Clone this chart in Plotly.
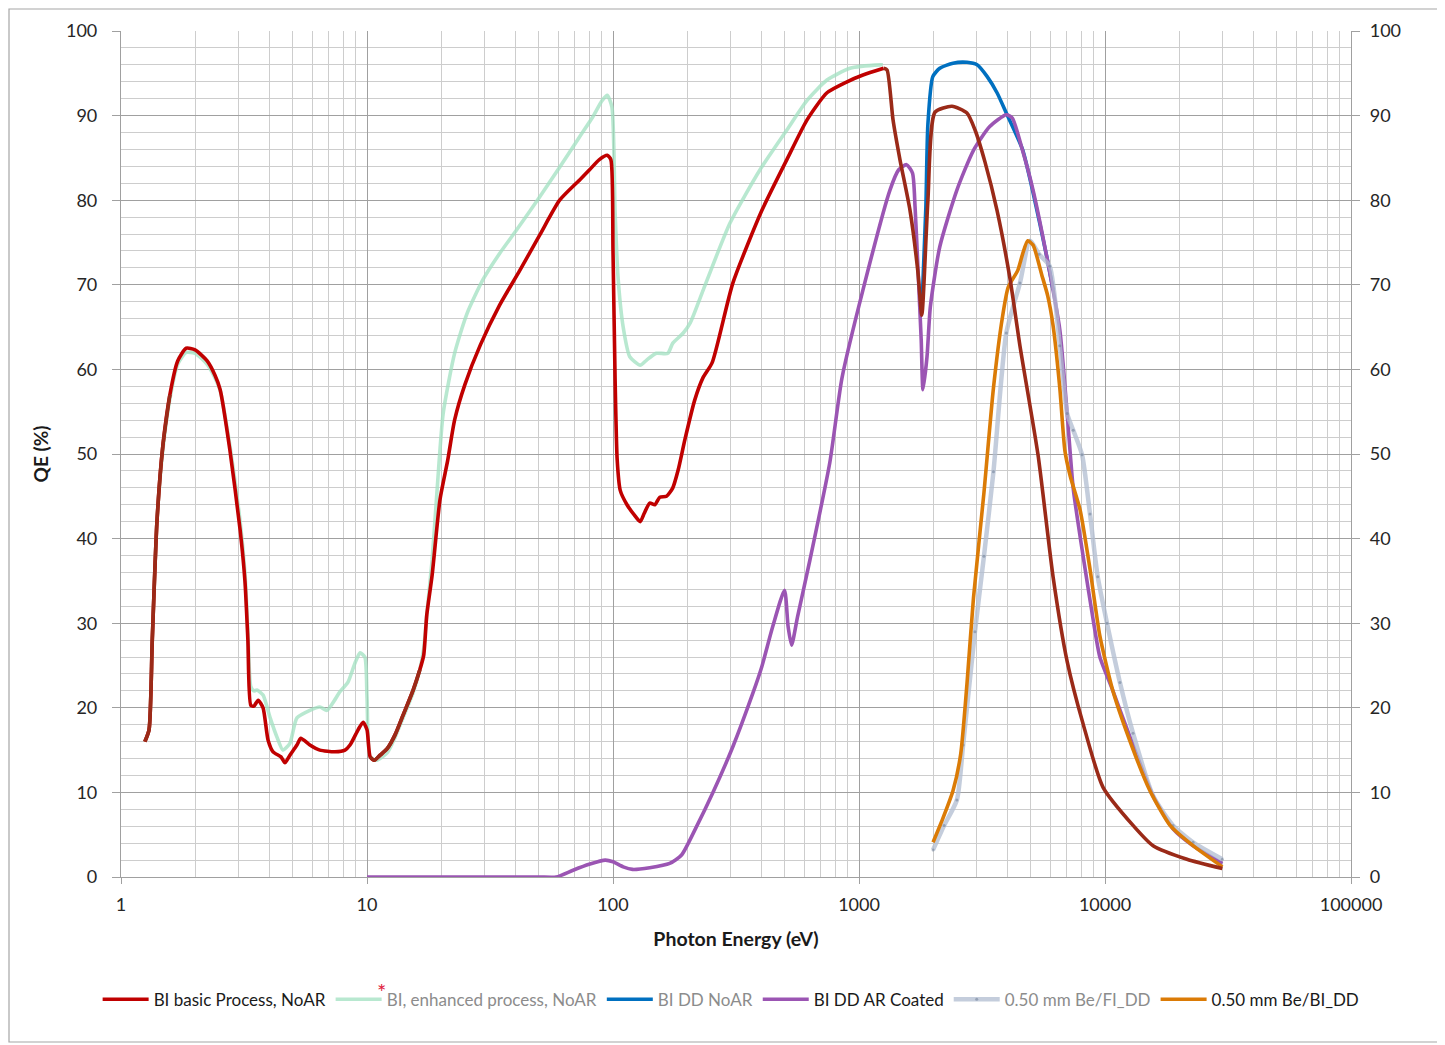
import plotly.graph_objects as go

# ---------------- data ----------------
basic_x = [1.25, 1.30, 1.34, 1.40, 1.48, 1.58, 1.70, 1.84, 2.0, 2.24, 2.41, 2.53, 2.77, 3.05, 3.19,
           3.28, 3.37, 3.47, 3.61, 3.78, 3.96, 4.15, 4.47, 4.64, 4.86, 5.19, 5.38, 5.86, 6.43, 7.41,
           8.14, 8.53, 9.2, 9.64, 10.0, 10.3, 10.7, 11.3, 12.1, 13.0, 14.0, 15.4, 16.4, 17.0, 17.5,
           18.4, 19.8, 21.3, 22.7, 25.0, 28.9, 34.6, 41.8, 50.4, 60.7, 73.2, 80.3, 88.0, 94.8, 98.0,
           100, 102, 104, 107, 114, 122, 129, 134, 141, 148, 155, 165, 175, 184, 196, 215, 232, 253,
           307, 403, 509, 615, 741, 894, 1038, 1260]
basic_y = [16.0, 17.4, 28, 42, 51, 57, 61, 62.5, 62.3, 61, 59.3, 57.6, 50.5, 41, 35,
           28, 20.3, 20.2, 20.9, 20, 16.2, 14.8, 14.2, 13.5, 14.4, 15.6, 16.4, 15.6, 15.0, 14.8,
           15.0, 15.6, 17.4, 18.3, 17.4, 14.2, 13.8, 14.4, 15.2, 16.8, 19.1, 22.1, 24.5, 26.2, 31,
           35.7, 44.6, 49.3, 54, 58.2, 62.9, 67.6, 71.7, 75.9, 80, 82.4, 83.6, 84.8, 85.3, 84.8,
           74, 58.7, 49.3, 45.7, 44, 42.8, 42, 43, 44.2, 44, 44.9, 45, 46, 48.1, 51.7, 56.4, 59, 60.8,
           70.2, 78.8, 84.8, 89.5, 92.7, 94, 94.8, 95.6]

# darker companion curve (no legend entry) seen on parts of the basic-process curve
dark_x = [1.25, 1.30, 1.34, 1.40, 1.48, 1.58, None,
          10.3, 10.7, 11.3, 12.1, 13.0, 14.0, 15.4, 16.4, None,
          1260, 1300, 1375, 1467, 1612, 1733, 1800, 1906, 2037, 2388, 2747, 2963, 3253, 3640,
          4111, 4510, 5342, 6150, 7016, 8147, 9820, 13000, 15680, 21530, 30000]
dark_y = [16.0, 17.4, 28, 42, 51, 57, None,
          14.2, 13.8, 14.4, 15.2, 16.8, 19.1, 22.1, 24.5, None,
          95.6, 95.4, 89.5, 84.8, 78.8, 71.7, 66.4, 80, 90.4, 91.1, 90.3, 88.3, 84.5, 78.8,
          70.7, 62.8, 49.9, 35.5, 25.5, 18.1, 10.6, 6.1, 3.7, 2.1, 1.0]

enh_x = [1.25, 1.30, 1.34, 1.40, 1.48, 1.58, 1.70, 1.84, 2.0, 2.24, 2.41, 2.53, 2.77, 3.05, 3.19,
         3.28, 3.37, 3.47, 3.57, 3.78, 4.03, 4.31, 4.55, 4.86, 5.19, 5.86, 6.43, 6.87, 7.27, 7.76,
         8.36, 8.94, 9.37, 9.8, 10.0, 10.3, 10.9, 12.1, 13.0, 14.0, 15.4, 16.4, 17.0, 17.5, 18.4,
         19.3, 20.4, 22.7, 25.5, 29.6, 34.6, 40.6, 50.4, 60.7, 73.2, 82.6, 90.4, 94.8, 99,
         102, 105, 110, 117, 129, 137, 150, 167, 175, 193, 206, 237, 299, 396, 509, 615, 741,
         919, 1217, 1250]
enh_y = [16.0, 17.4, 28, 42, 50.5, 56.5, 60.6, 62, 61.9, 60.6, 59, 57.5, 51, 42, 36,
         29, 22.5, 22.0, 22.1, 21.5, 18.9, 16.5, 15.0, 15.8, 18.8, 19.7, 20.1, 19.7, 20.6, 21.9,
         23, 25.3, 26.5, 26, 21.3, 14.2, 13.8, 14.7, 16.5, 18.8, 21.8, 24.5, 27, 31, 37.5,
         46, 54.8, 61.9, 66.6, 70.6, 73.7, 76.5, 80.4, 83.9, 87.5, 89.8, 91.8, 92.4, 91,
         78.5, 70.6, 65, 61.5, 60.5, 61.1, 61.9, 61.9, 63.1, 64.3, 65.5, 70, 77.3, 83.6, 88.3,
         91.8, 94.2, 95.6, 96, 96]

ddnoar_x = [1800, 1870, 1906, 1995, 2130, 2410, 2750, 3020, 3320, 3640, 3970, 4620, 5100, 5800, 6150]
ddnoar_y = [66.8, 79.2, 89, 94.6, 95.6, 96.2, 96.3, 96, 94.6, 92.7, 90.3, 86, 80.9, 73.3, 69.4]

ddar_x = [10, 20, 30, 40, 50.4, 58.8, 68.8, 80, 93, 100, 110, 120, 141, 170, 190, 218, 254, 307,
          370, 402, 446, 498, 515, 532, 563, 632, 761, 853, 1038, 1336, 1450, 1560, 1650, 1690,
          1740, 1790, 1820, 1890, 1950, 2130, 2500, 2920, 3400, 3970, 4200, 4620, 5100, 5800,
          6550, 7016, 7430, 8150, 8940, 9530, 10770, 13000, 15680, 18900, 22800, 30000]
ddar_y = [0, 0, 0, 0, 0, 0, 0.8, 1.5, 2.0, 1.8, 1.2, 0.9, 1.1, 1.6, 2.6, 5.9, 9.9, 15.4,
          21.7, 24.8, 29.6, 33.9, 29.6, 27.4, 30.8, 37.5, 49, 59, 69.4, 81.2, 83.6, 84.2, 83.2, 79.2,
          71.4, 63.5, 57.6, 61.5, 67.4, 74.5, 81.2, 85.9, 88.7, 90.1, 89.7, 85.9, 81.2, 73.3,
          64.7, 54.8, 45.9, 37.9, 30.5, 26, 22, 15.6, 9.6, 5.7, 3.7, 1.6]

befi_x = [2000, 2220, 2500, 2650, 2960, 3220, 3520, 3970, 4510, 4950, 5400, 5960, 6550, 7016,
          7430, 8070, 8690, 9340, 10190, 11500, 13000, 15680, 18900, 22800, 30000]
befi_y = [3.2, 6.1, 9.1, 15.6, 29, 37.9, 47.9, 64.3, 70.2, 75.2, 73.6, 72.2, 62.8, 54.8,
          52.8, 49.9, 42.9, 35.5, 30, 23, 17, 9.6, 6.1, 4.1, 2.1]

bebi_x = [2000, 2170, 2410, 2590, 2750, 2920, 3220, 3520, 3830, 4040, 4420, 4620, 4850, 5100,
          5530, 5850, 6150, 6550, 6870, 7220, 7920, 8690, 9530, 10770, 13000, 15230, 18380,
          22800, 30000]
bebi_y = [4.1, 6.6, 10.2, 14.5, 23, 33, 45.4, 57.8, 66.2, 69.7, 71.7, 73.6, 75.2, 74.7,
          71.2, 68.7, 65.2, 57.8, 50.4, 47.4, 43.4, 36.4, 28.5, 22, 15.1, 10.2, 6.1,
          3.7, 1.2]

x_tick_vals = [1, 10, 100, 1000, 10000, 100000]
x_tick_text = ["1", "10", "100", "1000", "10000", "100000"]
y_tick_vals = [0, 10, 20, 30, 40, 50, 60, 70, 80, 90, 100]

# ---------------- styling ----------------
FONT = "Lato, 'Open Sans', sans-serif"
C_RED = "#C00000"
C_DARK = "#9A2A18"
C_GREEN = "rgba(160,224,192,0.75)"
C_BLUE = "#0070C0"
C_PURPLE = "#9B55B3"
C_GRAYBLUE = "rgba(176,188,208,0.75)"
C_ORANGE = "#DB7B06"
GRAY_TXT = "#8C8C8C"
LW = 3.6
SM = 0.6

fig = go.Figure()

def add(x, y, name, color, rank, showlegend=True, width=LW, marker=None):
    fig.add_trace(go.Scatter(
        x=x, y=y, name=name, mode="lines" if marker is None else "lines+markers",
        line=dict(color=color, width=width, shape="spline", smoothing=SM),
        marker=marker, legendrank=rank, showlegend=showlegend, hoverinfo="skip",
        connectgaps=False))

add(enh_x, enh_y, f"<span style='color:{GRAY_TXT}'>BI, enhanced process, NoAR</span>", C_GREEN, 2)
add(basic_x, basic_y, "BI basic Process, NoAR", C_RED, 1)
add(ddnoar_x, ddnoar_y, f"<span style='color:{GRAY_TXT}'>BI DD NoAR</span>", C_BLUE, 3)
add(ddar_x, ddar_y, "BI DD AR Coated", C_PURPLE, 4)
add(befi_x, befi_y, f"<span style='color:{GRAY_TXT}'>0.50 mm Be/FI_DD</span>", C_GRAYBLUE, 5,
    width=4.5, marker=dict(size=3, color="rgba(110,125,150,0.55)"))
add(bebi_x, bebi_y, "0.50 mm Be/BI_DD", C_ORANGE, 6)
add(dark_x, dark_y, "dark", C_DARK, 7, showlegend=False)

# invisible trace to carry the right-hand axis
fig.add_trace(go.Scatter(x=[1, 100000], y=[0, 100], yaxis="y2", mode="lines",
                         line=dict(width=0, color="rgba(0,0,0,0)"), showlegend=False,
                         hoverinfo="skip"))

MAJOR = "#A0A0A0"
MINOR = "#CDCDCD"

# page has an 8px body margin: figure spans 8..1445 x 8..1045
fig.update_layout(
    width=1437, height=1037,
    margin=dict(l=113, r=94, t=23, b=168),
    paper_bgcolor="white", plot_bgcolor="white",
    font=dict(family=FONT, color="#262626", size=18),
    showlegend=True,
    legend=dict(orientation="h", x=-0.019, xanchor="left", y=-0.145, yanchor="middle",
                font=dict(family=FONT, size=17, color="#1a1a1a"), itemwidth=46,
                bgcolor="rgba(0,0,0,0)", traceorder="normal", tracegroupgap=0),
    xaxis=dict(type="log", range=[0, 5], tickvals=x_tick_vals, ticktext=x_tick_text,
               showgrid=True, gridcolor=MAJOR, gridwidth=1.2,
               minor=dict(dtick="D1", showgrid=True, gridcolor=MINOR, gridwidth=1.2, ticks=""),
               showline=True, linecolor=MAJOR, linewidth=1.2, ticks="outside", ticklen=6,
               tickcolor=MAJOR, tickfont=dict(size=18), zeroline=False, ticklabelstandoff=5,
               title=dict(text="<b>Photon Energy (eV)</b>", font=dict(size=19.5, color="#1a1a1a"),
                          standoff=18)),
    yaxis=dict(range=[0, 100], tickvals=y_tick_vals, showgrid=True, gridcolor=MAJOR, gridwidth=1.2,
               minor=dict(dtick=2, showgrid=True, gridcolor=MINOR, gridwidth=1.2, ticks=""),
               showline=True, linecolor=MAJOR, linewidth=1.2, ticks="outside", ticklen=8,
               tickcolor=MAJOR, tickfont=dict(size=18), zeroline=False, ticklabelstandoff=11,
               title=dict(text="<b>QE (%)</b>", font=dict(size=19, color="#1a1a1a"), standoff=12)),
    yaxis2=dict(range=[0, 100], tickvals=y_tick_vals, overlaying="y", side="right",
                showgrid=False, showline=True, linecolor=MAJOR, linewidth=1.2, ticks="outside",
                ticklen=8, tickcolor=MAJOR, tickfont=dict(size=18), zeroline=False,
                ticklabelstandoff=6),
)

# red asterisk above the second legend entry
fig.add_annotation(text="*", x=0.2065, y=-0.154, xref="paper", yref="paper",
                   showarrow=False, font=dict(size=22, color="#E0203C", family=FONT))

# outer chart border (page px 9..1440 x 9..1042)
PW, PH = 1230.0, 846.0
fig.add_shape(type="rect", xref="paper", yref="paper",
              x0=(9 - 121) / PW, x1=(1440 - 121) / PW,
              y0=-(1042 - 877) / PH, y1=1 + (31 - 9) / PH,
              line=dict(color="#A6A6A6", width=1.2), fillcolor="rgba(0,0,0,0)", layer="below")

fig.write_html("out.html")
